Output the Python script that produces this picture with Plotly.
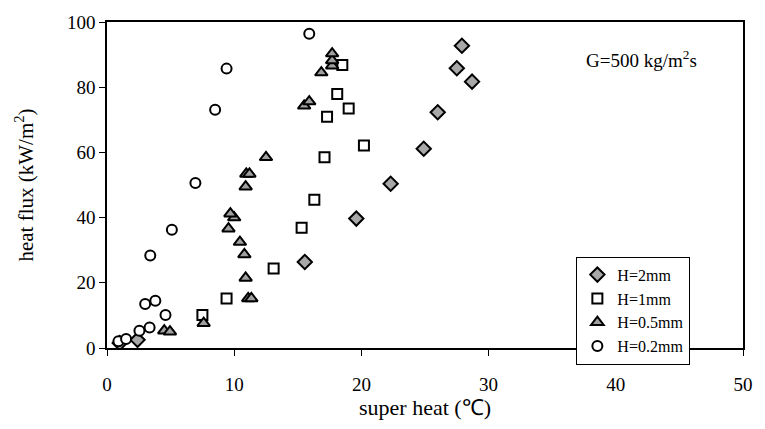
import plotly.graph_objects as go

# H=2mm (diamonds)
h2_x = [1.0, 2.4, 15.55, 19.6, 22.3, 24.9, 26.0, 28.7, 27.5, 27.9]
h2_y = [1.5, 2.5, 26.4, 39.7, 50.4, 61.1, 72.3, 81.7, 85.8, 92.7]

# H=1mm (squares)
h1_x = [7.5, 9.4, 13.1, 15.3, 16.3, 17.1, 20.2, 17.3, 19.0, 18.1, 18.5]
h1_y = [10.1, 15.2, 24.4, 36.9, 45.5, 58.5, 62.1, 70.9, 73.5, 77.9, 86.8]

# H=0.5mm (triangles)
h05_x = [4.5, 4.95, 7.6, 11.1, 11.35, 10.9, 10.8, 10.45, 9.55, 10.0, 9.7,
         10.9, 10.95, 11.2, 12.5, 15.5, 15.9, 16.85, 17.7, 17.7, 17.7]
h05_y = [5.3, 5.0, 7.6, 15.2, 15.2, 21.5, 28.7, 32.5, 36.6, 40.0, 41.2,
         49.5, 53.4, 53.4, 58.5, 74.3, 75.6, 84.5, 86.6, 88.2, 90.3]

# H=0.2mm (circles)
h02_x = [0.9, 1.5, 2.55, 3.35, 4.6, 3.0, 3.8, 3.4, 5.1, 6.95, 8.5, 9.4, 15.9]
h02_y = [2.1, 2.75, 5.3, 6.3, 10.1, 13.5, 14.5, 28.4, 36.3, 50.6, 73.1, 85.7, 96.4]

x_ticks = [0, 10, 20, 30, 40, 50]
y_ticks = [0, 20, 40, 60, 80, 100]

FONT = "Liberation Serif"

fig = go.Figure()
fig.add_trace(go.Scatter(x=h2_x, y=h2_y, mode="markers", name="H=2mm",
                         marker=dict(symbol="diamond", size=11, color="#a8a8a8",
                                     line=dict(color="black", width=2))))
fig.add_trace(go.Scatter(x=h1_x, y=h1_y, mode="markers", name="H=1mm",
                         marker=dict(symbol="square", size=10, color="white",
                                     line=dict(color="black", width=2))))
fig.add_trace(go.Scatter(x=h05_x, y=h05_y, mode="markers", name="H=0.5mm",
                         marker=dict(symbol="triangle-up", size=11, color="#a0a0a0",
                                     line=dict(color="black", width=2))))
fig.add_trace(go.Scatter(x=h02_x, y=h02_y, mode="markers", name="H=0.2mm",
                         marker=dict(symbol="circle", size=10, color="white",
                                     line=dict(color="black", width=2))))

fig.update_layout(
    width=765, height=429,
    margin=dict(l=107, r=13, t=21, b=81),
    paper_bgcolor="white", plot_bgcolor="white",
    font=dict(family=FONT, size=19, color="black"),
    showlegend=True,
    legend=dict(x=0.738, y=0.28, xanchor="left", yanchor="top",
                bgcolor="white", bordercolor="black", borderwidth=1,
                font=dict(family=FONT, size=16), itemsizing="trace",
                tracegroupgap=0, itemwidth=30),
    annotations=[dict(x=0.84, y=0.887, xref="paper", yref="paper",
                      xanchor="center", yanchor="middle",
                      text="G=500 kg/m<sup>2</sup>s", showarrow=False,
                      font=dict(family=FONT, size=19))],
)
fig.update_xaxes(range=[0, 50], tickvals=x_ticks, showgrid=False, zeroline=False,
                 showline=True, linecolor="black", linewidth=1.5, mirror=True,
                 ticks="outside", ticklen=6, tickcolor="black", ticklabelstandoff=12,
                 title=dict(text="super heat (℃)", font=dict(family=FONT, size=22), standoff=2))
fig.update_yaxes(range=[0, 100], tickvals=y_ticks, showgrid=False, zeroline=False,
                 showline=True, linecolor="black", linewidth=1.5, mirror=True,
                 ticks="outside", ticklen=6, tickcolor="black",
                 title=dict(text="heat flux (kW/m<sup>2</sup>)", font=dict(family=FONT, size=21), standoff=28))

fig.write_html("out.html")
